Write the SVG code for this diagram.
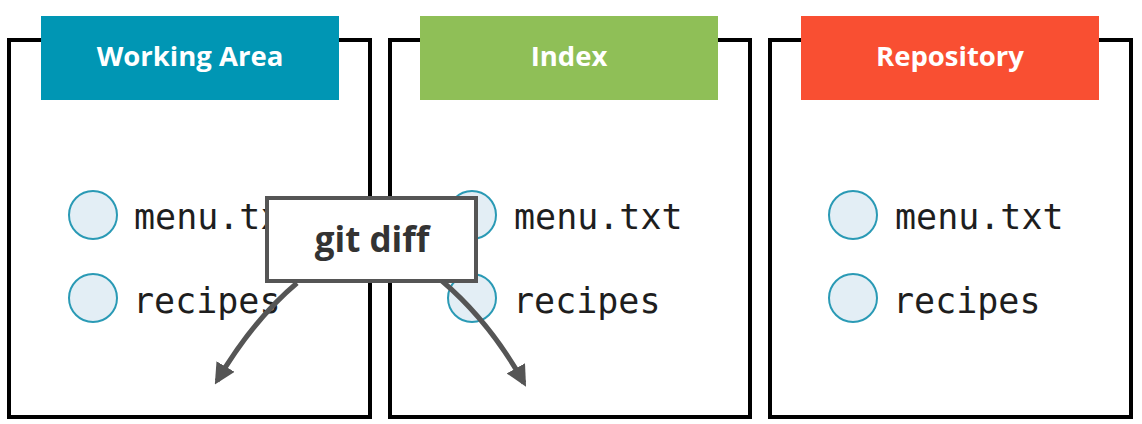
<svg xmlns="http://www.w3.org/2000/svg" width="1142" height="424" viewBox="0 0 1142 424">
<defs>
<style>
.frame{fill:#fff;stroke:#000;stroke-width:4}
.hdr-t{font-family:"Open Sans","Liberation Sans",sans-serif;font-weight:bold;font-size:27.5px;fill:#fff;text-anchor:middle}
.file{fill:#e3eef5;stroke:#2a9ab5;stroke-width:2}
.fname{font-family:"DejaVu Sans Mono","Liberation Mono",monospace;font-size:35px;fill:#1e1e1e}
.conn{fill:none;stroke:#555;stroke-width:5}
</style>
<marker id="ah" viewBox="0 0 10 10" refX="8" refY="5" markerWidth="4.2" markerHeight="4.2" markerUnits="strokeWidth" orient="auto">
<path d="M0,0 L10,5 L0,10 z" fill="#555"/>
</marker>
</defs>
<rect width="1142" height="424" fill="#fff"/>
<g id="working-area">
<rect class="frame" x="9" y="40" width="361" height="377"/>
<rect x="41" y="16" width="298" height="84" fill="#0096b4"/>
<text class="hdr-t" x="190" y="66">Working Area</text>
<circle class="file" cx="93" cy="215" r="24"/>
<text class="fname" x="134" y="229">menu.txt</text>
<circle class="file" cx="93" cy="298" r="24"/>
<text class="fname" x="133" y="313">recipes</text>
</g>
<g id="index">
<rect class="frame" x="390" y="40" width="360" height="377"/>
<rect x="420" y="16" width="298" height="84" fill="#8fbf57"/>
<text class="hdr-t" x="569" y="66">Index</text>
<circle class="file" cx="472" cy="215" r="24"/>
<text class="fname" x="514" y="229">menu.txt</text>
<circle class="file" cx="472" cy="298" r="24"/>
<text class="fname" x="513" y="313">recipes</text>
</g>
<g id="repository">
<rect class="frame" x="770" y="40" width="361" height="377"/>
<rect x="801" y="16" width="298" height="84" fill="#f94f32"/>
<text class="hdr-t" x="950" y="66">Repository</text>
<circle class="file" cx="853" cy="215" r="24"/>
<text class="fname" x="895" y="229">menu.txt</text>
<circle class="file" cx="853" cy="298" r="24"/>
<text class="fname" x="893" y="313">recipes</text>
</g>
<g id="git-diff">
<rect x="267" y="198" width="209" height="83" fill="#fff" stroke="#555" stroke-width="4"/>
<text x="372" y="252" font-family="'Open Sans','Liberation Sans',sans-serif" font-weight="bold" font-size="35" fill="#333" text-anchor="middle">git diff</text>
</g>
<g id="connectors">
<path class="conn" d="M297,283 Q253,320 217,381" marker-end="url(#ah)"/>
<path class="conn" d="M442,281 Q490,322 524,383" marker-end="url(#ah)"/>
</g>
</svg>
